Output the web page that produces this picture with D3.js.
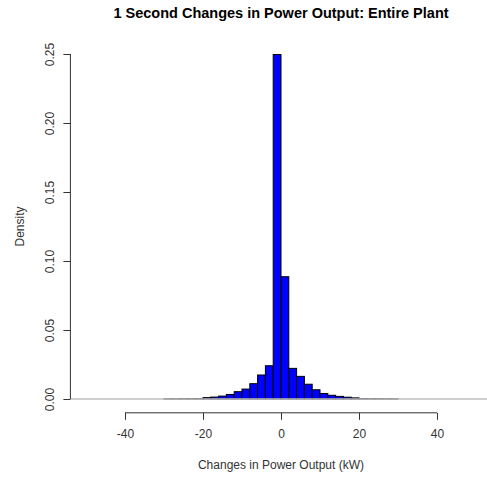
<!DOCTYPE html>
<html>
<head>
<meta charset="utf-8">
<script src="https://cdn.jsdelivr.net/npm/d3@7"></script>
<style>
  html, body { margin: 0; padding: 0; background: #fff; }
  svg { display: block; font-family: "Liberation Sans", Arial, sans-serif; }
</style>
</head>
<body>
<svg id="chart" width="487" height="479"></svg>
<script>
// ---- data ----
const binStarts = [-30, -28, -26, -24, -22, -20, -18, -16, -14, -12, -10, -8, -6, -4, -2,
                   0, 2, 4, 6, 8, 10, 12, 14, 16, 18, 20, 22, 24, 26, 28];
const binWidth = 2;
const densities = [0.0001, 0.0001, 0.0002, 0.0002, 0.0003, 0.0010, 0.0014, 0.0021, 0.0033, 0.0053,
                   0.0072, 0.0111, 0.0174, 0.0241, 0.2496, 0.0886, 0.0222, 0.0164, 0.0107, 0.0067,
                   0.0040, 0.0027, 0.0019, 0.0013, 0.0008, 0.0003, 0.0002, 0.0002, 0.0001, 0.0001];
const xTicks = [-40, -20, 0, 20, 40];
const yTicks = [0.00, 0.05, 0.10, 0.15, 0.20, 0.25];
const titleText = "1 Second Changes in Power Output: Entire Plant";
const xLabel = "Changes in Power Output (kW)";
const yLabel = "Density";

// ---- scales ----
const svg = d3.select("#chart");
const x = d3.scaleLinear().domain([-54, 54]).range([70.4, 491.6]);
const y = d3.scaleLinear().domain([-0.01, 0.26]).range([412.8, 40.2]);
const axisColor = "#333";

// bars
svg.append("g").selectAll("rect")
  .data(binStarts.map((b, i) => ({ x0: b, x1: b + binWidth, d: densities[i] })))
  .join("rect")
  .attr("x", d => x(d.x0))
  .attr("width", d => x(d.x1) - x(d.x0))
  .attr("y", d => y(d.d))
  .attr("height", d => y(0) - y(d.d))
  .attr("fill", "#0000ff")
  .attr("stroke", "#000")
  .attr("stroke-width", 1);

// grey baseline (abline h = 0)
svg.append("line")
  .attr("x1", x(-54)).attr("x2", x(54))
  .attr("y1", y(0)).attr("y2", y(0))
  .attr("stroke", "#bebebe").attr("stroke-width", 1.5);

// x axis
const xAxis = d3.axisBottom(x).tickValues(xTicks).tickFormat(d3.format("d")).tickSize(7).tickPadding(10).tickSizeOuter(0);
const gx = svg.append("g").attr("transform", `translate(0,${y(-0.01)})`).call(xAxis);
gx.select(".domain").attr("d", `M${x(-40)},0H${x(40)}`).attr("stroke", axisColor);
gx.selectAll(".tick line").attr("stroke", axisColor);
gx.selectAll(".tick text").attr("font-size", 12).attr("fill", axisColor)
  .attr("font-family", "Liberation Sans, Arial, sans-serif")
  .text(d => (d < 0 ? "-" + Math.abs(d) : d));

// y axis
const yAxis = d3.axisLeft(y).tickValues(yTicks).tickFormat(d3.format(".2f")).tickSize(7).tickSizeOuter(0);
const gy = svg.append("g").attr("transform", `translate(${x(-54)},0)`).call(yAxis);
gy.select(".domain").attr("d", `M0,${y(0)}V${y(0.25)}`).attr("stroke", axisColor);
gy.selectAll(".tick line").attr("stroke", axisColor);
gy.selectAll(".tick text")
  .attr("font-size", 12).attr("fill", axisColor)
  .attr("font-family", "Liberation Sans, Arial, sans-serif")
  .attr("x", null).attr("dy", null)
  .attr("text-anchor", "middle")
  .attr("transform", `translate(${53.5 - x(-54)},0) rotate(-90)`);

// title
svg.append("text")
  .attr("x", (x(-54) + x(54)) / 2).attr("y", 17.5)
  .attr("text-anchor", "middle")
  .attr("font-size", 14.5).attr("font-weight", "bold").attr("fill", "#000")
  .text(titleText);

// x label
svg.append("text")
  .attr("x", (x(-54) + x(54)) / 2).attr("y", 468.5)
  .attr("text-anchor", "middle")
  .attr("font-size", 12).attr("fill", axisColor)
  .text(xLabel);

// y label
svg.append("text")
  .attr("transform", `translate(24,${y(0.125)}) rotate(-90)`)
  .attr("text-anchor", "middle")
  .attr("font-size", 12).attr("fill", axisColor)
  .text(yLabel);
</script>
</body>
</html>
